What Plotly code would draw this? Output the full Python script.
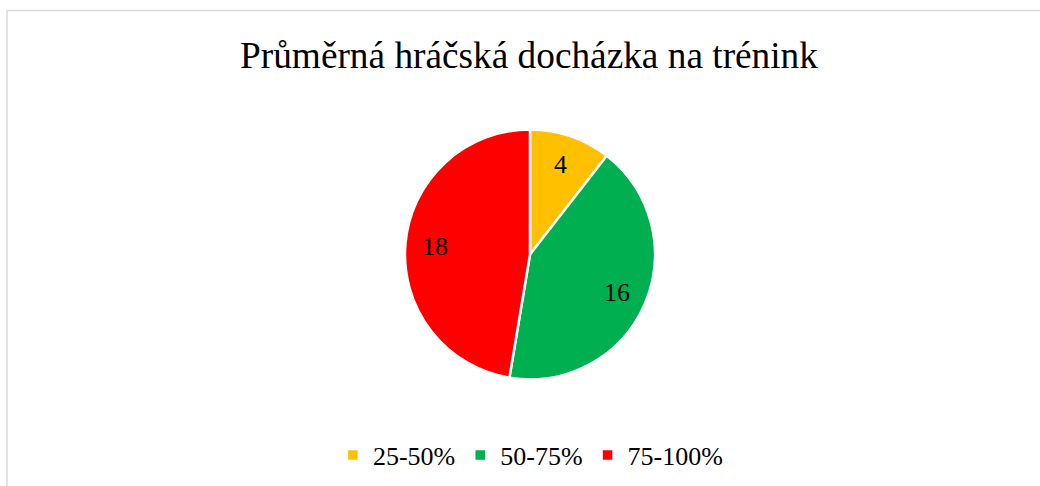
import math
import plotly.graph_objects as go

# data
categories = ["25-50%", "50-75%", "75-100%"]
counts = [4, 16, 18]
colors = ["#FFC000", "#00B050", "#FF0000"]

W, H = 1040, 486
FONT = "Liberation Serif"

# pie placement (paper fractions)
dom_x = [0.5096 - 0.15, 0.5096 + 0.15]
dom_y = [0.2192, 0.7336]

fig = go.Figure()

fig.add_trace(
    go.Pie(
        labels=categories,
        values=counts,
        sort=False,
        direction="clockwise",
        rotation=0,
        marker={"colors": colors, "line": {"color": "white", "width": 2.5}},
        textinfo="none",
        domain={"x": dom_x, "y": dom_y},
        hoverinfo="label+value",
    )
)

# value labels, Excel style: along each slice bisector, ~0.76 of the radius
cx = (dom_x[0] + dom_x[1]) / 2 * W
cy = (1 - (dom_y[0] + dom_y[1]) / 2) * H
radius = (dom_y[1] - dom_y[0]) * H / 2
total = sum(counts)
cum = 0
for v in counts:
    mid = (cum + v / 2) / total * 2 * math.pi
    cum += v
    px = cx + 0.76 * radius * math.sin(mid)
    py = cy - 0.76 * radius * math.cos(mid)
    fig.add_annotation(
        x=px / W, y=1 - py / H, xref="paper", yref="paper",
        text=str(v), showarrow=False,
        font={"family": FONT, "size": 26, "color": "black"},
        xanchor="center", yanchor="middle",
    )

# chart border (only left and top edges visible in the crop)
border = "#D9D9D9"
fig.add_shape(type="line", xref="paper", yref="paper",
              x0=7 / W, x1=1.01, y0=1 - 10.5 / H, y1=1 - 10.5 / H,
              line={"color": border, "width": 1.5})
fig.add_shape(type="line", xref="paper", yref="paper",
              x0=7 / W, x1=7 / W, y0=1 - 10.5 / H, y1=-0.01,
              line={"color": border, "width": 1.5})

fig.update_layout(
    width=W,
    height=H,
    margin={"t": 0, "b": 0, "l": 0, "r": 0, "pad": 0},
    paper_bgcolor="white",
    plot_bgcolor="white",
    title={
        "text": "Průměrná hráčská docházka na trénink",
        "font": {"family": FONT, "size": 37.3, "color": "black"},
        "x": 529 / W,
        "xanchor": "center",
        "y": 1 - 55 / H,
        "yanchor": "middle",
    },
    showlegend=True,
    legend={
        "orientation": "h",
        "x": 0.510,
        "xanchor": "center",
        "y": 1 - 455 / H,
        "yanchor": "middle",
        "font": {"family": FONT, "size": 26, "color": "black"},
        "itemwidth": 30,
    },
)

fig.write_html(
    "out.html",
    config={"displayModeBar": False},
    post_script="document.body.style.margin='0';",
)
